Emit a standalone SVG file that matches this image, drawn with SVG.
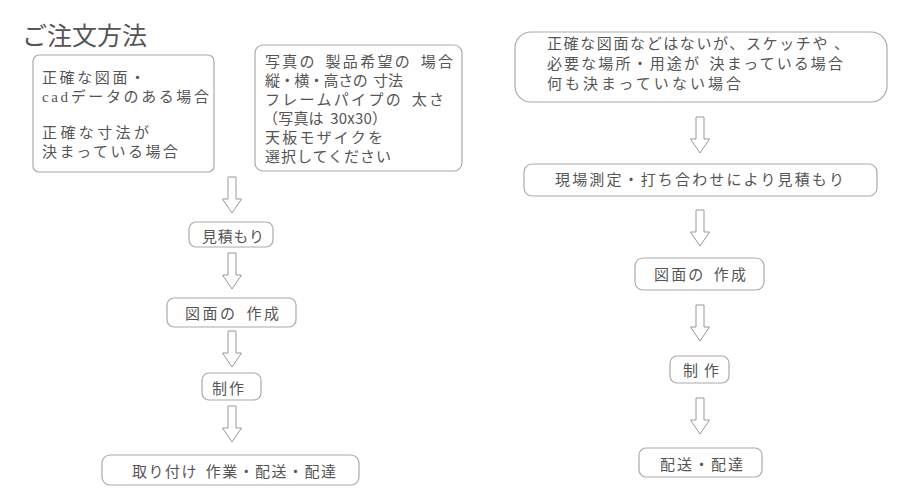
<svg xmlns="http://www.w3.org/2000/svg" width="920" height="500" viewBox="0 0 920 500">
<style>
.t{font-family:"Noto Sans CJK JP","Noto Sans",sans-serif;font-size:15px;fill:#555;word-spacing:3px;}
.n{stroke:#aaa;stroke-width:1.2;fill:#fff;}
.a{stroke:#999;stroke-width:1;fill:#fff;}
.title{font-family:"Noto Sans CJK JP","Noto Sans",sans-serif;font-size:25px;fill:#555;}
.s{font-family:"Liberation Serif",serif;}
</style>
<defs>
<path id="arr" d="M-4,0 H4 V22 H9.5 L0,36 L-9.5,22 H-4 Z"/>
</defs>
<rect width="920" height="500" fill="#fff"/>
<text class="title" x="22" y="45">ご注文方法</text>

<g id="boxA">
<rect class="n" x="33" y="55" width="181" height="117" rx="6"/>
<text class="t" x="42" y="83" textLength="103" lengthAdjust="spacing">正確な図面・</text>
<text class="t" x="42" y="102" textLength="167" lengthAdjust="spacing"><tspan class="s">cad</tspan>データのある場合</text>
<text class="t" x="42" y="138" textLength="107" lengthAdjust="spacing">正確な寸法が</text>
<text class="t" x="42" y="157" textLength="136" lengthAdjust="spacing">決まっている場合</text>
</g>
<g id="boxB">
<rect class="n" x="255" y="45" width="207" height="126" rx="8"/>
<text class="t" x="265" y="67" textLength="188" lengthAdjust="spacing">写真の 製品希望の 場合</text>
<text class="t" x="265" y="86" textLength="138" lengthAdjust="spacing">縦・横・高さの 寸法</text>
<text class="t" x="265" y="105" textLength="179" lengthAdjust="spacing">フレームパイプの 太さ</text>
<text class="t" x="263" y="124" textLength="124" lengthAdjust="spacing">（写真は 30x30）</text>
<text class="t" x="265" y="143" textLength="118" lengthAdjust="spacing">天板モザイクを</text>
<text class="t" x="265" y="162" textLength="126" lengthAdjust="spacing">選択してください</text>
</g>
<g id="L1">
<rect class="n" x="189" y="222" width="84" height="25" rx="7"/>
<text class="t" x="202" y="242" textLength="62" lengthAdjust="spacing">見積もり</text>
</g>
<g id="L2">
<rect class="n" x="167" y="298" width="129" height="29" rx="7"/>
<text class="t" x="185" y="319" textLength="94" lengthAdjust="spacing">図面の 作成</text>
</g>
<g id="L3">
<rect class="n" x="202" y="373" width="59" height="27" rx="7"/>
<text class="t" x="212" y="394" textLength="32" lengthAdjust="spacing">制作</text>
</g>
<g id="L4">
<rect class="n" x="102" y="455" width="257" height="30" rx="8"/>
<text class="t" x="132" y="477" textLength="204" lengthAdjust="spacing">取り付け 作業・配送・配達</text>
</g>

<g id="boxC">
<rect class="n" x="515" y="32" width="372" height="70" rx="16"/>
<text class="t" x="547" y="49" textLength="302" lengthAdjust="spacing" style="word-spacing:0">正確な図面などはないが、スケッチや 、</text>
<text class="t" x="547" y="69" textLength="296" lengthAdjust="spacing">必要な場所・用途が 決まっている場合</text>
<text class="t" x="547" y="89" textLength="194" lengthAdjust="spacing">何も決まっていない場合</text>
</g>
<g id="R1">
<rect class="n" x="524" y="164" width="353" height="32" rx="8"/>
<text class="t" x="555" y="185" textLength="289" lengthAdjust="spacing">現場測定・打ち合わせにより見積もり</text>
</g>
<g id="R2">
<rect class="n" x="635" y="258" width="129" height="32" rx="8"/>
<text class="t" x="654" y="280" textLength="92" lengthAdjust="spacing">図面の 作成</text>
</g>
<g id="R3">
<rect class="n" x="670" y="356" width="59" height="27" rx="7"/>
<text class="t" x="683" y="376" textLength="36" lengthAdjust="spacing">制作</text>
</g>
<g id="R4">
<rect class="n" x="639" y="448" width="123" height="29" rx="7"/>
<text class="t" x="660" y="470" textLength="83" lengthAdjust="spacing">配送・配達</text>
</g>

<g id="connectors">
<use href="#arr" class="a" x="232" y="177"/>
<use href="#arr" class="a" x="232" y="253"/>
<use href="#arr" class="a" x="232" y="331"/>
<use href="#arr" class="a" x="232" y="406"/>
<use href="#arr" class="a" x="700" y="117"/>
<use href="#arr" class="a" x="700" y="210"/>
<use href="#arr" class="a" x="700" y="305"/>
<use href="#arr" class="a" x="700" y="398"/>
</g>
</svg>
